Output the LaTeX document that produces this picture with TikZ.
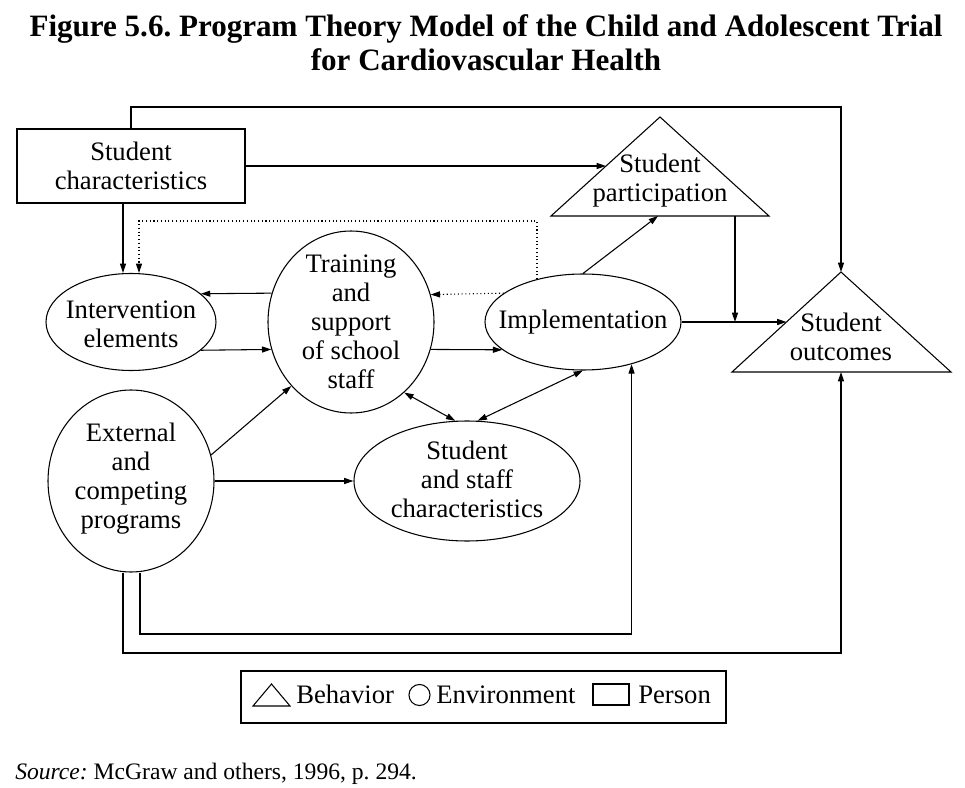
\documentclass[tikz,border=0pt]{standalone}
\usepackage{fontspec}
\setmainfont{Liberation Serif}
\usetikzlibrary{shapes.geometric,arrows.meta,calc}
\frenchspacing
\begin{document}
\begin{tikzpicture}[x=0.75pt,y=-0.75pt,
  every node/.style={font=\fontsize{20}{21.75}\selectfont},
  line/.style={line width=0.8pt},
  tip/.style={-{Triangle[length=7pt,width=4.5pt]}},
  arr/.style={line, tip},
  darr/.style={line, {Triangle[length=7pt,width=4.5pt]}-{Triangle[length=7pt,width=4.5pt]}},
  ell/.style={draw, line width=0.8pt, ellipse, inner sep=0pt},
  txt/.style={align=center, inner sep=0pt},
  ttl/.style={anchor=base, font=\bfseries\fontsize{23.3}{28}\selectfont},
  ]
\useasboundingbox (0,0) rectangle (965,788);

% title
\node[ttl] (t1) at (486,37) {Figure 5.6. Program Theory Model of the Child and Adolescent Trial};
\node[ttl] (t2) at (486,71) {for Cardiovascular Health};

% helper coordinates
\coordinate (x123) at (123,0);
\coordinate (x139) at (139,0);
\coordinate (x140) at (140,0);
\coordinate (topY) at (0,107);
\coordinate (dotY) at (0,221);
\coordinate (botA) at (0,653);
\coordinate (botB) at (0,634);

% person box
\node[draw, line width=0.8pt, minimum width=171pt, minimum height=55.5pt, inner sep=0pt, align=center] (sc) at (131,166) {Student\\characteristics};

% ellipses
\node[ell, minimum width=127.5pt, minimum height=72.75pt] (ie) at (131,322) {};
\node[txt] (iet) at (131,324) {Intervention\\elements};
\node[ell, minimum width=124.5pt, minimum height=136.5pt] (tr) at (351,322) {};
\node[txt] (trt) at (351,322) {Training\\and\\support\\of school\\staff};
\node[ell, minimum width=147pt, minimum height=72pt] (impl) at (583,322) {};
\node[txt] (implt) at (583,322) {Implementation};
\node[ell, minimum width=124.5pt, minimum height=136.5pt] (ext) at (131,481) {};
\node[txt] (extt) at (131,479) {External\\and\\competing\\programs};
\node[ell, minimum width=169.5pt, minimum height=90pt] (ss) at (467,481) {};
\node[txt] (sst) at (467,479) {Student\\and staff\\characteristics};

% triangles
\coordinate (spA) at (660,117);
\coordinate (spL) at (551,216);
\coordinate (spR) at (769,216);
\draw[line, line join=miter] (spA) -- (spL) -- (spR) -- cycle;
\node[txt] (spt) at (660,181) {Student\\participation};
\coordinate (soA) at (841,272);
\coordinate (soL) at (732,372);
\coordinate (soR) at (951,372);
\draw[line, line join=miter] (soA) -- (soL) -- (soR) -- cycle;
\node[txt] (sot) at (841,337) {Student\\outcomes};

\coordinate (spIn) at (606,166);
\coordinate (spB1) at (658,216);
\coordinate (spB2) at (735,216);
\coordinate (soIn) at (786.5,322);
\coordinate (soJ) at (735,322);
\coordinate (soBot) at (841,372);

% connectors
\draw[arr] (sc.north) -- (sc.north |- topY) -| (soA);
\draw[arr] (sc.east) -- (spIn);
\draw[arr] (sc.south -| x123) -- (ie.north -| x123);
\draw[line, dotted, tip] (impl.137) -- (impl.137 |- dotY) -| (ie.north -| x139);
\draw[line, dotted, tip] (impl.160.6) -- (tr.19.5);
\draw[arr] (tr.160.5) -- (ie.22);
\draw[arr] (ie.-22) -- (tr.199.5);
\draw[arr] (tr.-19.5) -- (impl.199.4);
\draw[arr] (impl.east) -- (soIn);
\draw[arr] (spB2) -- (soJ);
\draw[arr] (impl.north) -- (spB1);
\draw[arr] (ext.18) -- (tr.227);
\draw[arr] (ext.east) -- (ss.west);
\draw[darr] (tr.-53) -- (ss.101);
\draw[darr] (ss.80) -- (impl.south);
\draw[arr] (ext.south -| x123) -- (x123 |- botA) -| (soBot);
\draw[arr] (ext.south -| x140) -- (x140 |- botB) -| (impl.-41);

% legend
\node[draw, line width=0.8pt, minimum width=363.75pt, minimum height=39pt, inner sep=0pt] (leg) at (483.5,697) {};
\draw[line, line join=miter] (253,706) -- (290,706) -- (271.5,684) -- cycle;
\draw[line] (419.5,695) circle[radius=7.9pt];
\draw[line] (593,684) rectangle (629,705);
\node[anchor=base west, inner sep=0pt] (lb) at (296,703) {Behavior};
\node[anchor=base west, inner sep=0pt] (le) at (436,703) {Environment};
\node[anchor=base west, inner sep=0pt] (lp) at (638,703) {Person};

% source
\node[anchor=base west, inner sep=0pt, font=\fontsize{17.7}{21}\selectfont] (src) at (15,779) {\textit{Source:} McGraw and others, 1996, p. 294.};
\end{tikzpicture}
\end{document}
